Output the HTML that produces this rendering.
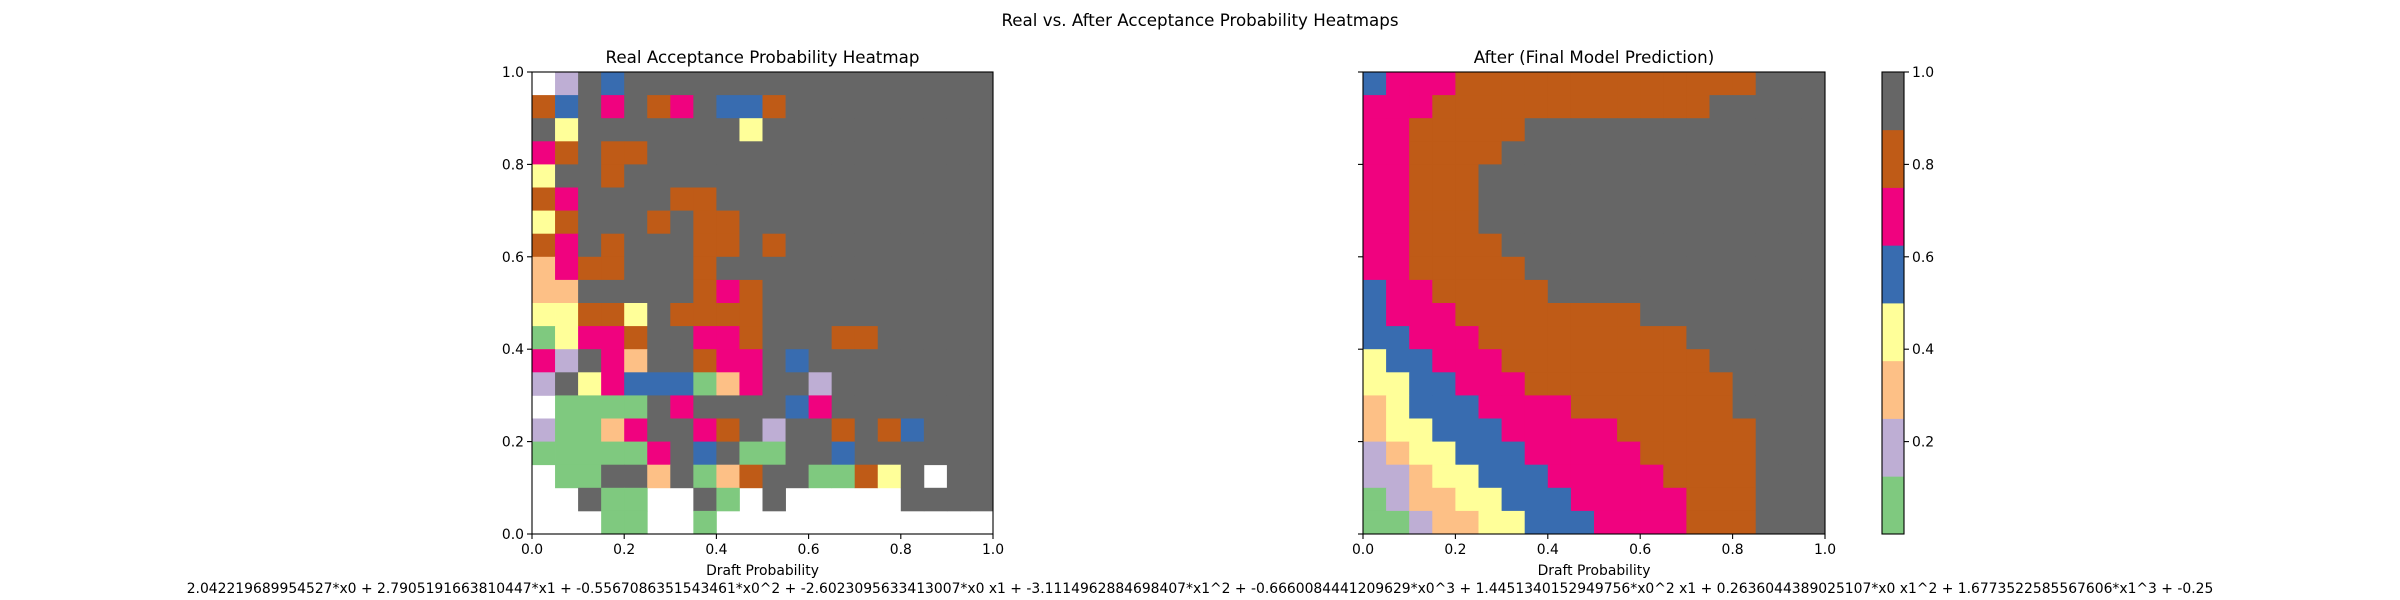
<!DOCTYPE html>
<html><head><meta charset="utf-8">
<style>
html,body{margin:0;padding:0;background:#fff;}
svg{display:block;font-family:"DejaVu Sans","Liberation Sans",sans-serif;}
</style></head>
<body>
<svg id="fig" width="2400" height="600" viewBox="0 0 2400 600" xmlns="http://www.w3.org/2000/svg">
<rect width="2400" height="600" fill="#fff"/>
<text x="1200" y="26" font-size="16.7" text-anchor="middle">Real vs. After Acceptance Probability Heatmaps</text>
<text x="762.5" y="63" font-size="16.7" text-anchor="middle">Real Acceptance Probability Heatmap</text>
<text x="1594" y="63" font-size="16.7" text-anchor="middle">After (Final Model Prediction)</text>
<g id="left"></g>
<g id="right"></g>
<g id="cbar"></g>
<text x="762.5" y="575" font-size="13.9" text-anchor="middle">Draft Probability</text>
<text x="1594" y="575" font-size="13.9" text-anchor="middle">Draft Probability</text>
<text x="1200" y="593" font-size="13.9" text-anchor="middle">2.042219689954527*x0 + 2.7905191663810447*x1 + -0.5567086351543461*x0^2 + -2.6023095633413007*x0 x1 + -3.1114962884698407*x1^2 + -0.6660084441209629*x0^3 + 1.4451340152949756*x0^2 x1 + 0.2636044389025107*x0 x1^2 + 1.6773522585567606*x1^3 + -0.25</text>
</svg>
<script>
const N = null;
const accentColors = ["#7fc97f","#beaed4","#fdc086","#ffff99","#386cb0","#f0027f","#bf5b17","#666666"];
const tickLabels = ["0.0","0.2","0.4","0.6","0.8","1.0"];
const tickValues = [0,0.2,0.4,0.6,0.8,1.0];
const cbarTicks = [0.2,0.4,0.6,0.8,1.0];
const cbarLabels = ["0.2","0.4","0.6","0.8","1.0"];
// rows from top (y=1.0) to bottom (y=0.0)
const realGrid = [
[N,.2,.9,.6,.9,.9,.9,.9,.9,.9,.9,.9,.9,.9,.9,.9,.9,.9,.9,.9],
[.8,.6,.9,.7,.9,.8,.7,.9,.6,.6,.8,.9,.9,.9,.9,.9,.9,.9,.9,.9],
[.9,.4,.9,.9,.9,.9,.9,.9,.9,.4,.9,.9,.9,.9,.9,.9,.9,.9,.9,.9],
[.7,.8,.9,.8,.8,.9,.9,.9,.9,.9,.9,.9,.9,.9,.9,.9,.9,.9,.9,.9],
[.4,.9,.9,.8,.9,.9,.9,.9,.9,.9,.9,.9,.9,.9,.9,.9,.9,.9,.9,.9],
[.8,.7,.9,.9,.9,.9,.8,.8,.9,.9,.9,.9,.9,.9,.9,.9,.9,.9,.9,.9],
[.4,.8,.9,.9,.9,.8,.9,.8,.8,.9,.9,.9,.9,.9,.9,.9,.9,.9,.9,.9],
[.8,.7,.9,.8,.9,.9,.9,.8,.8,.9,.8,.9,.9,.9,.9,.9,.9,.9,.9,.9],
[.3,.7,.8,.8,.9,.9,.9,.8,.9,.9,.9,.9,.9,.9,.9,.9,.9,.9,.9,.9],
[.3,.3,.9,.9,.9,.9,.9,.8,.7,.8,.9,.9,.9,.9,.9,.9,.9,.9,.9,.9],
[.4,.4,.8,.8,.4,.9,.8,.8,.8,.8,.9,.9,.9,.9,.9,.9,.9,.9,.9,.9],
[.1,.4,.7,.7,.8,.9,.9,.7,.7,.8,.9,.9,.9,.8,.8,.9,.9,.9,.9,.9],
[.7,.2,.9,.7,.3,.9,.9,.8,.7,.7,.9,.6,.9,.9,.9,.9,.9,.9,.9,.9],
[.2,.9,.4,.7,.6,.6,.6,.1,.3,.7,.9,.9,.2,.9,.9,.9,.9,.9,.9,.9],
[N,.1,.1,.1,.1,.9,.7,.9,.9,.9,.9,.6,.7,.9,.9,.9,.9,.9,.9,.9],
[.2,.1,.1,.3,.7,.9,.9,.7,.8,.9,.2,.9,.9,.8,.9,.8,.6,.9,.9,.9],
[.1,.1,.1,.1,.1,.7,.9,.6,.9,.1,.1,.9,.9,.6,.9,.9,.9,.9,.9,.9],
[N,.1,.1,.9,.9,.3,.9,.1,.3,.8,.9,.9,.1,.1,.8,.4,.9,N,.9,.9],
[N,N,.9,.1,.1,N,N,.9,.1,N,.9,N,N,N,N,N,.9,.9,.9,.9],
[N,N,N,.1,.1,N,N,.1,N,N,N,N,N,N,N,N,N,N,N,N]
];
const afterGrid = [
[.6,.7,.7,.7,.8,.8,.8,.8,.8,.8,.8,.8,.8,.8,.8,.8,.8,.9,.9,.9],
[.7,.7,.7,.8,.8,.8,.8,.8,.8,.8,.8,.8,.8,.8,.8,.9,.9,.9,.9,.9],
[.7,.7,.8,.8,.8,.8,.8,.9,.9,.9,.9,.9,.9,.9,.9,.9,.9,.9,.9,.9],
[.7,.7,.8,.8,.8,.8,.9,.9,.9,.9,.9,.9,.9,.9,.9,.9,.9,.9,.9,.9],
[.7,.7,.8,.8,.8,.9,.9,.9,.9,.9,.9,.9,.9,.9,.9,.9,.9,.9,.9,.9],
[.7,.7,.8,.8,.8,.9,.9,.9,.9,.9,.9,.9,.9,.9,.9,.9,.9,.9,.9,.9],
[.7,.7,.8,.8,.8,.9,.9,.9,.9,.9,.9,.9,.9,.9,.9,.9,.9,.9,.9,.9],
[.7,.7,.8,.8,.8,.8,.9,.9,.9,.9,.9,.9,.9,.9,.9,.9,.9,.9,.9,.9],
[.7,.7,.8,.8,.8,.8,.8,.9,.9,.9,.9,.9,.9,.9,.9,.9,.9,.9,.9,.9],
[.6,.7,.7,.8,.8,.8,.8,.8,.9,.9,.9,.9,.9,.9,.9,.9,.9,.9,.9,.9],
[.6,.7,.7,.7,.8,.8,.8,.8,.8,.8,.8,.8,.9,.9,.9,.9,.9,.9,.9,.9],
[.6,.6,.7,.7,.7,.8,.8,.8,.8,.8,.8,.8,.8,.8,.9,.9,.9,.9,.9,.9],
[.4,.6,.6,.7,.7,.7,.8,.8,.8,.8,.8,.8,.8,.8,.8,.9,.9,.9,.9,.9],
[.4,.4,.6,.6,.7,.7,.7,.8,.8,.8,.8,.8,.8,.8,.8,.8,.9,.9,.9,.9],
[.3,.4,.6,.6,.6,.7,.7,.7,.7,.8,.8,.8,.8,.8,.8,.8,.9,.9,.9,.9],
[.3,.4,.4,.6,.6,.6,.7,.7,.7,.7,.7,.8,.8,.8,.8,.8,.8,.9,.9,.9],
[.2,.3,.4,.4,.6,.6,.6,.7,.7,.7,.7,.7,.8,.8,.8,.8,.8,.9,.9,.9],
[.2,.2,.3,.4,.4,.6,.6,.6,.7,.7,.7,.7,.7,.8,.8,.8,.8,.9,.9,.9],
[.1,.2,.3,.3,.4,.4,.6,.6,.6,.7,.7,.7,.7,.7,.8,.8,.8,.9,.9,.9],
[.1,.1,.2,.3,.3,.4,.4,.6,.6,.6,.7,.7,.7,.7,.8,.8,.8,.9,.9,.9]
];
const SVGNS = "http://www.w3.org/2000/svg";
function mk(tag, attrs, parent){
  const e = document.createElementNS(SVGNS, tag);
  for (const k in attrs) e.setAttribute(k, attrs[k]);
  parent.appendChild(e);
  return e;
}
function colorFor(v){
  let i = Math.floor(v*8); if (i>7) i=7; if (i<0) i=0;
  return accentColors[i];
}
function drawHeatmap(g, grid, x0, x1, y0, y1, showYLabels, prefix){
  const nr = grid.length, nc = grid[0].length;
  const xs = v => x0 + v*(x1-x0);
  const ys = v => y1 - v*(y1-y0);
  for (let r=0;r<nr;r++){
    for (let c=0;c<nc;c++){
      const v = grid[r][c];
      if (v===null) continue;
      const top = ys(1 - r/nr), bot = ys(1-(r+1)/nr);
      const rect = mk('rect',{x:xs(c/nc), y:top, width:xs((c+1)/nc)-xs(c/nc)+0.4, height:bot-top+0.4, fill:colorFor(v)}, g);
      
      
    }
  }
  const frame = mk('rect',{x:x0,y:y0,width:x1-x0,height:y1-y0,fill:'none',stroke:'#000','stroke-width':1.1}, g);
  
  
  tickValues.forEach((t,i)=>{
    const x = xs(t);
    mk('line',{x1:x,y1:y1,x2:x,y2:y1+5,stroke:'#000','stroke-width':1.1}, g);
    const tx = mk('text',{x:x,y:y1+20,'font-size':13.9,'text-anchor':'middle'}, g);
    tx.textContent = tickLabels[i];
    
    
    const y = ys(t);
    mk('line',{x1:x0-5,y1:y,x2:x0,y2:y,stroke:'#000','stroke-width':1.1}, g);
    if (showYLabels){
      const ty = mk('text',{x:x0-8,y:y+5,'font-size':13.9,'text-anchor':'end'}, g);
      ty.textContent = tickLabels[i];
      
      
    }
  });
}
drawHeatmap(document.getElementById('left'), realGrid, 532, 993, 72, 534, true, 'real');
drawHeatmap(document.getElementById('right'), afterGrid, 1363, 1825, 72, 534, false, 'after');
(function(){
  const g = document.getElementById('cbar');
  const x0=1882, x1=1904, y0=72, y1=534;
  const ys = v => y1 - v*(y1-y0);
  accentColors.forEach((col,i)=>{
    const r = mk('rect',{x:x0,y:ys((i+1)/8),width:x1-x0,height:ys(i/8)-ys((i+1)/8)+0.4,fill:col}, g);
    
    
  });
  mk('rect',{x:x0,y:y0,width:x1-x0,height:y1-y0,fill:'none',stroke:'#000','stroke-width':1.1}, g);
  cbarTicks.forEach((t,i)=>{
    const y = ys(t);
    mk('line',{x1:x1,y1:y,x2:x1+5,y2:y,stroke:'#000','stroke-width':1.1}, g);
    const tx = mk('text',{x:x1+8,y:y+5,'font-size':13.9}, g);
    tx.textContent = cbarLabels[i];
    
    
  });
})();
</script>
</body></html>
